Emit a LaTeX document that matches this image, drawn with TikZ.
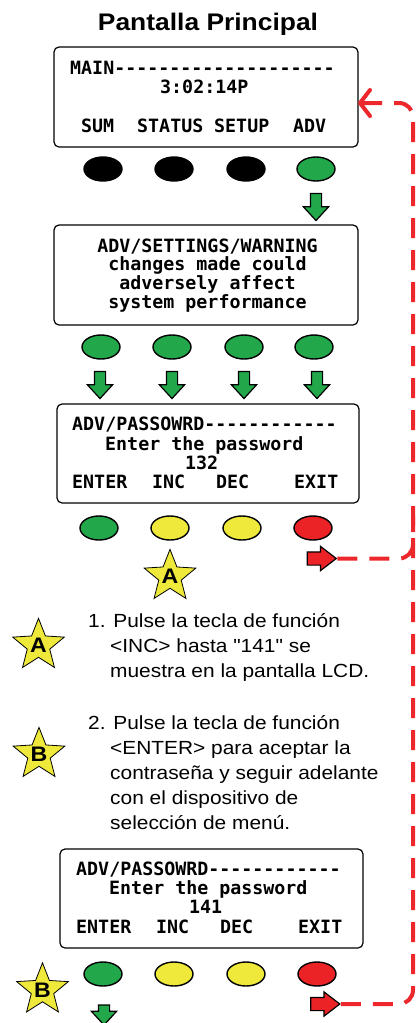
\documentclass[tikz,border=0pt]{standalone}
\usepackage{fontspec}
\setmainfont{Liberation Sans}[FakeStretch=1.1,Ligatures=TeXOff]
\newfontfamily\lcdfont{DejaVu Sans Mono}[Ligatures=TeXOff]
\usepackage{tikz}
\usepackage{xcolor}
\usetikzlibrary{positioning}
\usetikzlibrary{shapes.geometric, shapes.arrows, arrows.meta}

\definecolor{keygreen}{RGB}{34,168,74}
\definecolor{keyyellow}{RGB}{238,233,58}
\definecolor{keyred}{RGB}{236,35,38}
\definecolor{loopred}{RGB}{236,40,44}

\tikzset{
	lcd/.style={draw, line width=1.2pt, rounded corners=5pt, minimum width=304pt, minimum height=100pt},
	lcdtxt/.style={font=\lcdfont\bfseries\fontsize{18.3}{19}\selectfont, inner sep=0pt, anchor=base west},
	btn/.style={ellipse, draw, line width=1.4pt, minimum width=38pt, minimum height=24pt, inner sep=0pt, fill=#1},
	pushdown/.style={single arrow, draw, fill=keygreen, line width=1.2pt, inner sep=5pt, minimum height=27pt, single arrow head extend=7pt, single arrow tip angle=85, shape border rotate=270},
	pushright/.style={single arrow, draw, fill=keyred, line width=1.2pt, inner sep=6pt, minimum height=29pt, single arrow head extend=5.5pt, single arrow tip angle=75},
	badge/.style={star, star points=5, star point ratio=2.3, draw, fill=keyyellow, line width=0.8pt, minimum size=53pt, inner sep=0pt, font=\fontsize{21}{21}\selectfont\bfseries},
	steptxt/.style={font=\fontsize{19}{25}\selectfont, inner sep=0pt, anchor=base west},
	loopback/.style={draw=loopred, line width=4pt, dash pattern=on 20pt off 12pt, rounded corners=14pt}
}

\begin{document}
\begin{tikzpicture}[x=1pt, y=-1pt]
	\useasboundingbox (0,0) rectangle (416,1023);

	\node[font=\fontsize{24}{24}\selectfont\bfseries, inner sep=0pt, anchor=base] (title) at (208,30) {Pantalla Principal};

	% main screen
	\node[lcd] (scr1) at (206,97) {};
	\node[lcdtxt] (m1) at (70,74) {MAIN--------------------};
	\node[lcdtxt] (m2) at (160,93) {3:02:14P};
	\node[lcdtxt] (m3) at (81,132) {SUM};
	\node[lcdtxt] (m4) at (137,132) {STATUS};
	\node[lcdtxt] (m5) at (214,132) {SETUP};
	\node[lcdtxt] (m6) at (293,132) {ADV};
	\node[btn=black] (k11) at (103,169) {};
	\node[btn=black] (k12) at (174,169) {};
	\node[btn=black] (k13) at (246,169) {};
	\node[btn=keygreen] (k14) at (316,169) {};
	\node[pushdown] (d1) at (316,204) {};

	% warning screen
	\node[lcd] (scr2) at (206,275) {};
	\node[lcdtxt, anchor=base] (w1) at (207.5,252) {ADV/SETTINGS/WARNING};
	\node[lcdtxt, anchor=base] (w2) at (207.5,270) {changes made could};
	\node[lcdtxt, anchor=base] (w3) at (207.5,289) {adversely affect};
	\node[lcdtxt, anchor=base] (w4) at (207.5,308) {system performance};
	\node[btn=keygreen] (k21) at (101,347) {};
	\node[btn=keygreen] (k22) at (172,347) {};
	\node[btn=keygreen] (k23) at (244,347) {};
	\node[btn=keygreen] (k24) at (314,347) {};
	\node[pushdown] (d21) at (100,382) {};
	\node[pushdown] (d22) at (172,382) {};
	\node[pushdown] (d23) at (244,382) {};
	\node[pushdown] (d24) at (317,382) {};

	% password screen, 132
	\node[lcd, minimum width=302pt, minimum height=99pt] (scr3) at (208,453.5) {};
	\node[lcdtxt] (p1) at (72,430) {ADV/PASSOWRD------------};
	\node[lcdtxt] (p2) at (105,450) {Enter the password};
	\node[lcdtxt] (p3) at (185,469) {132};
	\node[lcdtxt] (p4) at (72,488) {ENTER};
	\node[lcdtxt] (p5) at (152,488) {INC};
	\node[lcdtxt] (p6) at (216,488) {DEC};
	\node[lcdtxt] (p7) at (294,488) {EXIT};
	\node[btn=keygreen] (k31) at (99,528) {};
	\node[btn=keyyellow] (k32) at (170,528) {};
	\node[btn=keyyellow] (k33) at (242,528) {};
	\node[btn=keyred] (k34) at (313,528) {};
	\node[pushright] (r3) at (317.5,558.5) {};
	\node[badge] (sa1) at (170,576.5) {A};

	% steps
	\node[badge] (sa2) at (38.5,645.5) {A};
	\node[steptxt] (t11) at (88,627) {1. Pulse la tecla de función};
	\node[steptxt] (t12) at (110,652) {<INC> hasta "141" se};
	\node[steptxt] (t13) at (110,677) {muestra en la pantalla LCD.};
	\node[badge] (sb2) at (39,754.5) {B};
	\node[steptxt] (t21) at (88,729) {2. Pulse la tecla de función};
	\node[steptxt] (t22) at (110,754) {<ENTER> para aceptar la};
	\node[steptxt] (t23) at (110,779) {contraseña y seguir adelante};
	\node[steptxt] (t24) at (110,804) {con el dispositivo de};
	\node[steptxt] (t25) at (110,829) {selección de menú.};

	% password screen, 141
	\node[lcd, minimum width=303pt, minimum height=99pt] (scr4) at (211.5,898.5) {};
	\node[lcdtxt] (q1) at (76,875) {ADV/PASSOWRD------------};
	\node[lcdtxt] (q2) at (109,894) {Enter the password};
	\node[lcdtxt] (q3) at (189,913) {141};
	\node[lcdtxt] (q4) at (76,933) {ENTER};
	\node[lcdtxt] (q5) at (156,933) {INC};
	\node[lcdtxt] (q6) at (220,933) {DEC};
	\node[lcdtxt] (q7) at (298,933) {EXIT};
	\node[btn=keygreen] (k41) at (103,974) {};
	\node[btn=keyyellow] (k42) at (174,974) {};
	\node[btn=keyyellow] (k43) at (246,974) {};
	\node[btn=keyred] (k44) at (317,974) {};
	\node[badge] (sb3) at (42.5,990) {B};
	\node[pushdown, minimum height=20pt] (d4) at (104,1012) {};
	\node[pushright] (r4) at (321,1004) {};

	% exit goes back to main
	\coordinate (rail) at (413,0);
	\coordinate (back) at (358,103);
	\draw[loopback, -{Straight Barb[length=10pt,width=26pt,round]}] (r4.east) -- (r4.east -| rail) -- (rail |- back) -- (back);
	\draw[loopback] (r3.east) -- (r3.east -| rail) -- (rail |- k34.north);
\end{tikzpicture}
\end{document}
